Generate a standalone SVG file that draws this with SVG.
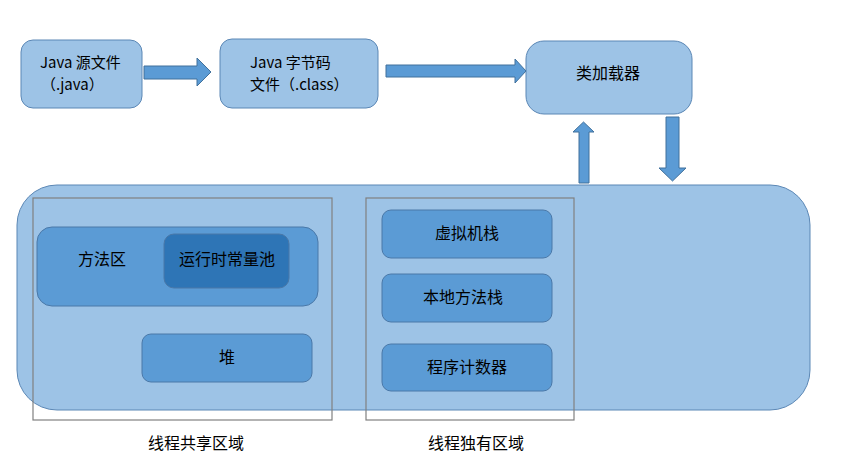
<svg xmlns="http://www.w3.org/2000/svg" width="848" height="464" viewBox="0 0 848 464">
<style>
.light{fill:#9DC3E6;stroke:#5B87B5;stroke-width:1}
.mid{fill:#5B9BD5;stroke:#4A78A8;stroke-width:1}
.dark{fill:#2E75B6;stroke:#4A78A8;stroke-width:1}
.arrow{fill:#5B9BD5;stroke:#41719C;stroke-width:1}
.region{fill:none;stroke:#808080;stroke-width:1.2}
text{font-family:"Noto Sans CJK SC","Liberation Sans",sans-serif;font-size:16px;fill:#000}
.s{font-size:15px}
.c{text-anchor:middle;dominant-baseline:central}
</style>
<rect width="848" height="464" fill="#fff"/>
<g id="jvm">
<rect class="light" x="17" y="185" width="793" height="225" rx="40"/>
</g>
<g id="java-source">
<rect class="light" x="21" y="40" width="121" height="68" rx="12"/>
<text class="s" x="40" y="67.5">Java 源文件</text>
<text class="s" x="41" y="90">（.java）</text>
</g>
<g id="class-file">
<rect class="light" x="220" y="39" width="158" height="69" rx="12"/>
<text class="s" x="250" y="67.5">Java 字节码</text>
<text class="s" x="250" y="90">文件（.class）</text>
</g>
<g id="class-loader">
<rect class="light" x="526" y="41" width="166" height="73" rx="18"/>
<text class="c" x="608" y="72">类加载器</text>
</g>
<g id="shared-region">
<rect class="region" x="33" y="198" width="299" height="222"/>
<text class="c" x="196" y="442">线程共享区域</text>
</g>
<g id="private-region">
<rect class="region" x="366" y="198" width="208" height="222"/>
<text class="c" x="476" y="442">线程独有区域</text>
</g>
<g id="method-area">
<rect class="mid" x="37" y="227" width="281" height="79" rx="15"/>
<text class="c" x="102" y="258">方法区</text>
</g>
<g id="runtime-constant-pool">
<rect class="dark" x="164" y="234" width="125" height="54" rx="10"/>
<text class="c" x="227" y="258">运行时常量池</text>
</g>
<g id="heap">
<rect class="mid" x="142" y="334" width="170" height="48" rx="9"/>
<text class="c" x="227" y="356">堆</text>
</g>
<g id="vm-stack">
<rect class="mid" x="382" y="210" width="170" height="48" rx="9"/>
<text class="c" x="467" y="232">虚拟机栈</text>
</g>
<g id="native-stack">
<rect class="mid" x="382" y="274" width="170" height="48" rx="9"/>
<text class="c" x="463" y="296">本地方法栈</text>
</g>
<g id="pc-register">
<rect class="mid" x="382" y="344" width="170" height="47" rx="9"/>
<text class="c" x="467" y="366">程序计数器</text>
</g>
<g id="connectors">
<polygon class="arrow" points="144,66 197,66 197,58 211,72 197,86 197,79 144,79"/>
<polygon class="arrow" points="386,65 515,65 515,59 526,71 515,83 515,77 386,77"/>
<polygon class="arrow" points="579,183 579,132 573,132 583.5,122 594,132 589,132 589,183"/>
<polygon class="arrow" points="666,117 679,117 679,168 686,168 672.5,181 659,168 666,168"/>
</g>
</svg>
